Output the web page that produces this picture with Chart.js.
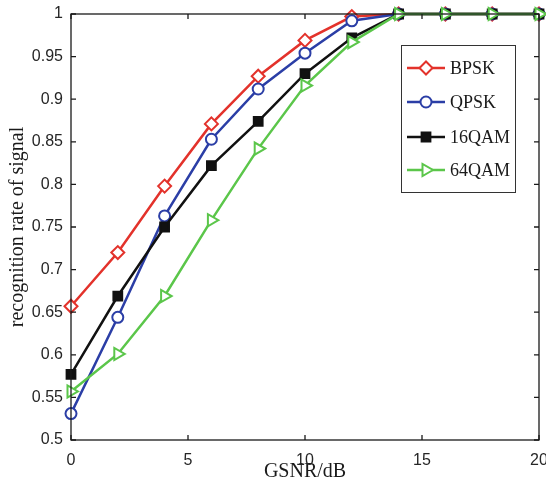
<!DOCTYPE html>
<html>
<head>
<meta charset="utf-8">
<title>recognition rate</title>
<script src="https://cdn.jsdelivr.net/npm/chart.js@4/dist/chart.umd.min.js"></script>
<style>
    body { margin: 0; background: #fff; }
    #wrap { width: 546px; height: 494px; }
</style>
</head>
<body>
<div id="wrap"><canvas id="rateChart" width="546" height="494"></canvas></div>
<script>
var gsnr = [0, 2, 4, 6, 8, 10, 12, 14, 16, 18, 20];
var bpsk = [0.657, 0.720, 0.798, 0.871, 0.927, 0.969, 0.997, 1, 1, 1, 1];
var qpsk = [0.531, 0.644, 0.763, 0.853, 0.912, 0.954, 0.992, 1, 1, 1, 1];
var qam16 = [0.577, 0.669, 0.750, 0.822, 0.874, 0.930, 0.972, 1, 1, 1, 1];
var qam64 = [0.557, 0.601, 0.669, 0.758, 0.842, 0.916, 0.967, 1, 1, 1, 1];
var xTicks = [0, 5, 10, 15, 20];
var yTicks = [0.5, 0.55, 0.6, 0.65, 0.7, 0.75, 0.8, 0.85, 0.9, 0.95, 1];
var labels = ['BPSK', 'QPSK', '16QAM', '64QAM'];

function toPoints(arr) {
    var pts = [];
    for (var i = 0; i < gsnr.length; i++) pts.push({ x: gsnr[i], y: arr[i] });
    return pts;
}

function series(label, arr, color, style, radius, fill, rot, order) {
    return {
        label: label,
        data: toPoints(arr),
        borderColor: color,
        backgroundColor: color,
        borderWidth: 2.5,
        pointStyle: style,
        pointRadius: radius,
        pointHoverRadius: radius,
        pointRotation: rot,
        pointBorderWidth: 2,
        pointBorderColor: color,
        pointBackgroundColor: fill,
        tension: 0,
        clip: false,
        order: order
    };
}

// box with inward ticks on all four sides
var frame = {
    id: 'frame',
    afterDraw: function(chart) {
        var ctx = chart.ctx;
        var a = chart.chartArea;
        var xs = chart.scales.x, ys = chart.scales.y;
        ctx.save();
        ctx.strokeStyle = '#1a1a1a';
        ctx.lineWidth = 1.3;
        ctx.strokeRect(a.left, a.top, a.right - a.left, a.bottom - a.top);
        ctx.beginPath();
        for (var i = 0; i < xTicks.length; i++) {
            var px = xs.getPixelForValue(xTicks[i]);
            ctx.moveTo(px, a.bottom); ctx.lineTo(px, a.bottom - 5);
            ctx.moveTo(px, a.top); ctx.lineTo(px, a.top + 5);
        }
        for (var j = 0; j < yTicks.length; j++) {
            var py = ys.getPixelForValue(yTicks[j]);
            ctx.moveTo(a.left, py); ctx.lineTo(a.left + 5, py);
            ctx.moveTo(a.right, py); ctx.lineTo(a.right - 5, py);
        }
        ctx.stroke();
        ctx.restore();
    }
};

var legendBox = {
    id: 'legendBox',
    afterDraw: function(chart) {
        var ctx = chart.ctx;
        var left = 401, top = 45, w = 114, h = 147;
        var rows = [68, 102, 137, 170];
        ctx.save();
        ctx.fillStyle = '#fff';
        ctx.fillRect(left, top, w, h);
        ctx.strokeStyle = '#333';
        ctx.lineWidth = 1;
        ctx.strokeRect(left + 0.5, top + 0.5, w, h);
        ctx.font = '18px "Liberation Serif", "Times New Roman", serif';
        ctx.textBaseline = 'middle';
        for (var k = 0; k < labels.length; k++) {
            var ds = chart.data.datasets.filter(function(d) { return d.label === labels[k]; })[0];
            var y = rows[k];
            ctx.strokeStyle = ds.borderColor;
            ctx.lineWidth = 2.5;
            ctx.beginPath();
            ctx.moveTo(407, y); ctx.lineTo(445, y);
            ctx.stroke();
            if (Chart.helpers && Chart.helpers.drawPoint) {
                ctx.fillStyle = ds.pointBackgroundColor;
                ctx.lineWidth = 2;
                Chart.helpers.drawPoint(ctx, {
                    pointStyle: ds.pointStyle,
                    rotation: ds.pointRotation,
                    radius: ds.pointRadius,
                    borderWidth: 2
                }, 426, y);
            }
            ctx.fillStyle = '#1a1a1a';
            ctx.fillText(labels[k], 450, y + 1);
        }
        ctx.restore();
    }
};

var tickFont = { family: '"Liberation Sans", Arial, sans-serif', size: 16 };
var titleFont = { family: '"Liberation Serif", "Times New Roman", serif', size: 20 };

new Chart(document.getElementById('rateChart'), {
    type: 'line',
    data: {
        datasets: [
            series('BPSK', bpsk, '#e3322b', 'rectRot', 6.5, '#fff', 0, 3),
            series('QPSK', qpsk, '#2b3ea6', 'circle', 5.5, '#fff', 0, 2),
            series('16QAM', qam16, '#111111', 'rect', 6.2, '#111111', 0, 1),
            series('64QAM', qam64, '#5bc64a', 'triangle', 7, '#fff', 90, 0)
        ]
    },
    options: {
        responsive: false,
        animation: false,
        events: [],
        layout: { autoPadding: false, padding: { top: 14, right: 7, left: 0, bottom: 0 } },
        plugins: { legend: { display: false }, tooltip: { enabled: false } },
        scales: {
            x: {
                type: 'linear',
                min: 0, max: 20,
                afterFit: function(s) {
                    s.height = 54;
                    s.paddingLeft = 0;
                    s.paddingRight = 0;
                },
                afterBuildTicks: function(s) { s.ticks = xTicks.map(function(v) { return { value: v }; }); },
                grid: { display: false, drawTicks: false },
                border: { display: false },
                ticks: { font: tickFont, color: '#262626', padding: 11, maxRotation: 0 },
                title: { display: true, text: 'GSNR/dB', font: titleFont, color: '#1a1a1a', padding: { top: 0, bottom: 10 } }
            },
            y: {
                type: 'linear',
                min: 0.5, max: 1,
                afterFit: function(s) {
                    s.width = 71;
                    s.paddingTop = 0;
                    s.paddingBottom = 0;
                },
                afterBuildTicks: function(s) { s.ticks = yTicks.map(function(v) { return { value: v }; }); },
                grid: { display: false, drawTicks: false },
                border: { display: false },
                ticks: {
                    font: tickFont, color: '#262626', padding: 8,
                    callback: function(v) { return String(Math.round(v * 100) / 100); }
                },
                title: { display: true, text: 'recognition rate of signal', font: titleFont, color: '#1a1a1a', padding: { top: 6, bottom: 0 } }
            }
        }
    },
    plugins: [frame, legendBox]
});
</script>
</body>
</html>
